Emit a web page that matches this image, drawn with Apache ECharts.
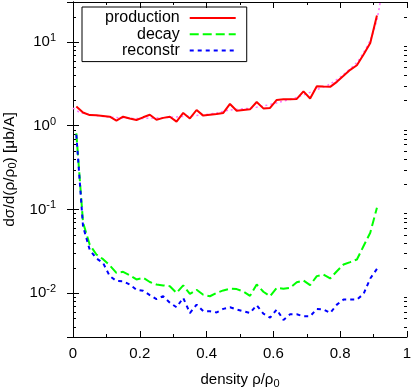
<!DOCTYPE html>
<html>
<head>
<meta charset="utf-8">
<script src="https://cdn.jsdelivr.net/npm/echarts@6/dist/echarts.min.js"></script>
<style>
html,body{margin:0;padding:0;background:#fff;}
#c{width:415px;height:389px;}
</style>
</head>
<body>
<div id="c"></div>
<script>
// density bin centres rho/rho0
const rho = [0.01,0.03,0.05,0.07,0.09,0.11,0.13,0.15,0.17,0.19,0.21,0.23,0.25,0.27,0.29,0.31,0.33,0.35,0.37,0.39,0.41,0.43,0.45,0.47,0.49,0.51,0.53,0.55,0.57,0.59,0.61,0.63,0.65,0.67,0.69,0.71,0.73,0.75,0.77,0.79,0.81,0.83,0.85,0.87,0.89,0.91];
const production = [1.70,1.44,1.34,1.33,1.31,1.28,1.15,1.28,1.22,1.17,1.26,1.35,1.18,1.24,1.28,1.12,1.42,1.22,1.54,1.32,1.35,1.38,1.42,1.82,1.51,1.54,1.57,1.92,1.61,1.63,2.03,2.07,2.07,2.09,2.57,2.11,2.96,2.93,2.91,3.34,3.94,4.65,5.27,7.08,9.73,20.7];
const decay = [0.81,0.07,0.038,0.029,0.0255,0.0215,0.0175,0.018,0.0164,0.0146,0.0153,0.0136,0.0127,0.0124,0.0121,0.0101,0.0124,0.0098,0.011,0.0096,0.0092,0.0101,0.0108,0.0113,0.0112,0.0105,0.0093,0.0127,0.0104,0.0092,0.0116,0.0113,0.0116,0.0135,0.0142,0.0125,0.016,0.0167,0.015,0.0183,0.022,0.0235,0.0253,0.0366,0.0528,0.105];
const reconstr = [0.78,0.063,0.033,0.026,0.023,0.016,0.014,0.0139,0.0127,0.011,0.0107,0.0095,0.0085,0.0092,0.0077,0.0068,0.0088,0.0058,0.0073,0.0061,0.0061,0.0059,0.0065,0.0068,0.0064,0.0061,0.0058,0.0072,0.0057,0.0051,0.0064,0.0048,0.0056,0.0056,0.0053,0.0053,0.0065,0.0064,0.0058,0.0073,0.0084,0.0084,0.0084,0.0098,0.015,0.0195];
// smooth fit curve (dotted)
const fitX = [0.0,0.02,0.05,0.1,0.19,0.29,0.38,0.43,0.47,0.53,0.57,0.62,0.67,0.72,0.77,0.81,0.85,0.87,0.89,0.91,0.925];
const fitY = [1.62,1.45,1.36,1.28,1.22,1.26,1.34,1.42,1.54,1.62,1.72,1.92,2.18,2.6,3.15,4.1,5.7,7.5,10.5,18.5,40];
const seriesNames = ['production','decay','reconstr'];
const xTicks = [0,0.2,0.4,0.6,0.8,1];

const FONT = 'Liberation Sans, Arial, Helvetica, sans-serif';
const chart = echarts.init(document.getElementById('c'), null, {renderer:'canvas'});
const pairs = (xs, ys) => xs.map((x,i)=>[x, ys[i]]);
const yMin = 0.003, yMax = 30;

function yLabel(v){
  const e = Math.log10(v), r = Math.round(e);
  if (Math.abs(e-r) > 1e-6) return '';
  return '{b|10}{s|' + r + '}';
}
const axisLine = {show:true, lineStyle:{color:'#000', width:1}};
const option = {
  animation:false,
  backgroundColor:'#fff',
  grid:{left:73, right:8, top:2, bottom:52, containLabel:false, outerBoundsMode:'none'},
  legend:{
    data:seriesNames, orient:'vertical', left:82, top:7, align:'right',
    itemWidth:46, itemHeight:14, itemGap:0.3,
    padding:[3,10,3,23], borderColor:'#000', borderWidth:1,
    itemStyle:{opacity:0, borderWidth:0},
    textStyle:{fontSize:16, lineHeight:16, color:'#000', fontFamily:FONT, padding:[0,5,0,0]}
  },
  xAxis:[{
    type:'value', min:0, max:1, interval:0.2, position:'bottom',
    axisLine:axisLine, splitLine:{show:false},
    axisTick:{show:true, inside:true, length:6, lineStyle:{color:'#000'}},
    minorTick:{show:true, splitNumber:2, length:3, lineStyle:{color:'#000'}},
    axisLabel:{fontSize:15, color:'#000', fontFamily:FONT, margin:9,
      formatter:v=>{ for (const t of xTicks) if (Math.abs(t-v)<1e-9) return String(t); return ''; }},
    name:'{t|density ρ/ρ}{sub|0}', nameLocation:'middle', nameGap:34,
    nameTextStyle:{rich:{t:{fontSize:15,color:'#000',fontFamily:FONT}, sub:{fontSize:11,color:'#000',fontFamily:FONT,padding:[7,0,0,0]}}}
  },{
    type:'value', min:0, max:1, interval:0.2, position:'top',
    axisLine:axisLine, splitLine:{show:false},
    axisTick:{show:true, inside:true, length:6, lineStyle:{color:'#000'}},
    minorTick:{show:true, splitNumber:2, length:3, lineStyle:{color:'#000'}},
    axisLabel:{show:false}
  }],
  yAxis:[{
    type:'log', logBase:10, min:yMin, max:yMax, position:'left',
    axisLine:axisLine, splitLine:{show:false},
    axisTick:{show:true, inside:true, length:6, lineStyle:{color:'#000'}},
    axisLabel:{color:'#000', margin:17, showMinLabel:false, showMaxLabel:false, formatter:yLabel,
      rich:{b:{fontSize:15,color:'#000',fontFamily:FONT}, s:{fontSize:11,color:'#000',fontFamily:FONT,padding:[0,0,8,0]}}},
    name:'{t|dσ/d(ρ/ρ}{sub|0}{t|) [μb/A]}', nameLocation:'middle', nameGap:50,
    nameTextStyle:{rich:{t:{fontSize:15.5,color:'#000',fontFamily:FONT}, sub:{fontSize:11,color:'#000',fontFamily:FONT,padding:[7,0,0,0]}}}
  },{
    type:'log', logBase:10, min:yMin, max:yMax, position:'right',
    axisLine:axisLine, splitLine:{show:false},
    axisTick:{show:true, inside:true, length:6, lineStyle:{color:'#000'}},
    axisLabel:{show:false}
  }],
  series:[
    {name:'fit', type:'line', data:pairs(fitX, fitY), smooth:0.3, symbol:'none', silent:true,
      lineStyle:{color:'#ff70ff', width:1.5, type:[2,3]}, z:1},
    {name:'production', type:'line', data:pairs(rho, production), symbol:'none',
      color:'#ff0000', lineStyle:{color:'#ff0000', width:2}, z:3},
    {name:'decay', type:'line', data:pairs(rho, decay), symbol:'none',
      color:'#00ff00', lineStyle:{color:'#00ff00', width:2, type:[9,4]}, z:3},
    {name:'reconstr', type:'line', data:pairs(rho, reconstr), symbol:'none',
      color:'#0000ff', lineStyle:{color:'#0000ff', width:2, type:[4,4]}, z:3}
  ]
};
chart.setOption(option);

// minor log ticks (2..9 x 10^k) on left and right borders
const x0 = chart.convertToPixel({xAxisIndex:0}, 0);
const x1 = chart.convertToPixel({xAxisIndex:0}, 1);
const minor = [];
for (let k=-3;k<=1;k++) for (let m=2;m<=9;m++){
  const v = m*Math.pow(10,k);
  if (v<=yMin || v>=yMax) continue;
  const py = Math.round(chart.convertToPixel({yAxisIndex:0}, v)) + 0.5;
  minor.push({type:'line', shape:{x1:x0, y1:py, x2:x0+3, y2:py}, style:{stroke:'#000', lineWidth:1}, silent:true});
  minor.push({type:'line', shape:{x1:x1-3, y1:py, x2:x1, y2:py}, style:{stroke:'#000', lineWidth:1}, silent:true});
}
chart.setOption({graphic:minor});
</script>
</body>
</html>
